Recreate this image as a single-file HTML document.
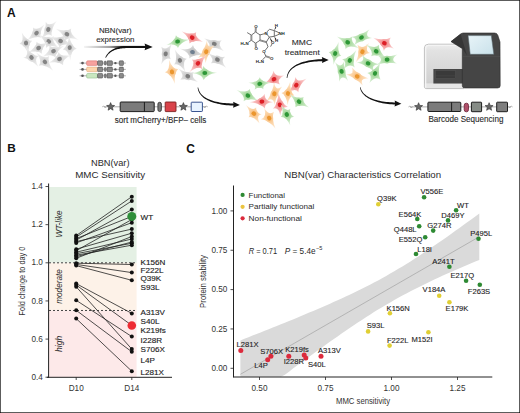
<!DOCTYPE html>
<html><head><meta charset="utf-8"><style>
html,body{margin:0;padding:0;background:#fff;overflow:hidden;}
svg{display:block;}
text{font-family:"Liberation Sans",sans-serif;}
</style></head><body>
<svg width="520" height="413" viewBox="0 0 520 413">
<rect x="0.5" y="0.5" width="519" height="412" fill="#fff" stroke="#5c5c5c" stroke-width="1"/>
<rect x="0" y="0" width="1" height="1" fill="#222"/><rect x="519" y="0" width="1" height="1" fill="#222"/><rect x="0" y="412" width="1" height="1" fill="#222"/><rect x="519" y="412" width="1" height="1" fill="#222"/>
<text x="6.9" y="16.6" font-size="12" text-anchor="start" fill="#111" font-weight="bold">A</text>
<text x="7.2" y="152.3" font-size="11.8" text-anchor="start" fill="#111" font-weight="bold">B</text>
<text x="186.2" y="152.7" font-size="12" text-anchor="start" fill="#111" font-weight="bold">C</text>
<rect x="49" y="187" width="87.6" height="75.80000000000001" fill="#e4f0e4"/>
<rect x="49" y="262.8" width="87.6" height="47.67500000000001" fill="#fdf2e8"/>
<rect x="49" y="310.475" width="87.6" height="66.745" fill="#fde9e9"/>
<line x1="49" y1="262.8" x2="136.6" y2="262.8" stroke="#444" stroke-width="1" stroke-dasharray="2,2"/>
<line x1="49" y1="310.475" x2="136.6" y2="310.475" stroke="#444" stroke-width="1" stroke-dasharray="2,2"/>
<line x1="48.6" y1="183.5" x2="48.6" y2="377.8" stroke="#222" stroke-width="1"/>
<line x1="47" y1="377.3" x2="172" y2="377.3" stroke="#222" stroke-width="1"/>
<line x1="45.5" y1="186.52000000000004" x2="48.5" y2="186.52000000000004" stroke="#222" stroke-width="0.8"/>
<text x="42.8" y="189.12000000000003" font-size="8.2" text-anchor="end" fill="#333" >1.4</text>
<line x1="45.5" y1="224.66000000000003" x2="48.5" y2="224.66000000000003" stroke="#222" stroke-width="0.8"/>
<text x="42.8" y="227.26000000000002" font-size="8.2" text-anchor="end" fill="#333" >1.2</text>
<line x1="45.5" y1="262.8" x2="48.5" y2="262.8" stroke="#222" stroke-width="0.8"/>
<text x="42.8" y="265.40000000000003" font-size="8.2" text-anchor="end" fill="#333" >1.0</text>
<line x1="45.5" y1="300.94" x2="48.5" y2="300.94" stroke="#222" stroke-width="0.8"/>
<text x="42.8" y="303.54" font-size="8.2" text-anchor="end" fill="#333" >0.8</text>
<line x1="45.5" y1="339.08000000000004" x2="48.5" y2="339.08000000000004" stroke="#222" stroke-width="0.8"/>
<text x="42.8" y="341.68000000000006" font-size="8.2" text-anchor="end" fill="#333" >0.6</text>
<line x1="45.5" y1="377.22" x2="48.5" y2="377.22" stroke="#222" stroke-width="0.8"/>
<text x="42.8" y="379.82000000000005" font-size="8.2" text-anchor="end" fill="#333" >0.4</text>
<line x1="76.2" y1="377.3" x2="76.2" y2="380" stroke="#222" stroke-width="0.8"/>
<text x="76.2" y="390.5" font-size="8.2" text-anchor="middle" fill="#333" >D10</text>
<line x1="131.8" y1="377.3" x2="131.8" y2="380" stroke="#222" stroke-width="0.8"/>
<text x="131.8" y="390.5" font-size="8.2" text-anchor="middle" fill="#333" >D14</text>
<text x="91" y="165.8" font-size="8.8" text-anchor="start" fill="#2a2a2a" textLength="38.5" lengthAdjust="spacingAndGlyphs">NBN(var)</text>
<text x="75.2" y="177.8" font-size="9.4" text-anchor="start" fill="#2a2a2a" textLength="70" lengthAdjust="spacingAndGlyphs">MMC Sensitivity</text>
<text transform="translate(25.3,315.4) rotate(-90)" font-size="8.7" fill="#333" textLength="68.8" lengthAdjust="spacingAndGlyphs">Fold change to day 0</text>
<text transform="translate(61.6,223.9) rotate(-90)" font-size="8.2" font-style="italic" text-anchor="middle" fill="#2a2a2a" textLength="27.2" lengthAdjust="spacingAndGlyphs">WT-like</text>
<text transform="translate(61.6,286.5) rotate(-90)" font-size="8.2" font-style="italic" text-anchor="middle" fill="#2a2a2a" textLength="34.5" lengthAdjust="spacingAndGlyphs">moderate</text>
<text transform="translate(61.6,343.8) rotate(-90)" font-size="8.2" font-style="italic" text-anchor="middle" fill="#2a2a2a" textLength="16.3" lengthAdjust="spacingAndGlyphs">high</text>
<line x1="76.2" y1="235.6" x2="131.8" y2="196.7" stroke="#222" stroke-width="0.8"/>
<line x1="76.2" y1="237.1" x2="131.8" y2="200.9" stroke="#222" stroke-width="0.8"/>
<line x1="76.2" y1="238.6" x2="131.8" y2="216.4" stroke="#222" stroke-width="0.8"/>
<line x1="76.2" y1="240.1" x2="131.8" y2="209.6" stroke="#222" stroke-width="0.8"/>
<line x1="76.2" y1="241.6" x2="131.8" y2="229.1" stroke="#222" stroke-width="0.8"/>
<line x1="76.2" y1="242.9" x2="131.8" y2="222.7" stroke="#222" stroke-width="0.8"/>
<line x1="76.2" y1="249.2" x2="131.8" y2="233.2" stroke="#222" stroke-width="0.8"/>
<line x1="76.2" y1="250.7" x2="131.8" y2="219.5" stroke="#222" stroke-width="0.8"/>
<line x1="76.2" y1="252.2" x2="131.8" y2="239.0" stroke="#222" stroke-width="0.8"/>
<line x1="76.2" y1="253.7" x2="131.8" y2="243.3" stroke="#222" stroke-width="0.8"/>
<line x1="76.2" y1="255.2" x2="131.8" y2="245.2" stroke="#222" stroke-width="0.8"/>
<line x1="76.2" y1="256.7" x2="131.8" y2="242.0" stroke="#222" stroke-width="0.8"/>
<line x1="76.2" y1="258.3" x2="131.8" y2="236.5" stroke="#222" stroke-width="0.8"/>
<line x1="76.2" y1="263.2" x2="131.8" y2="264.5" stroke="#222" stroke-width="0.8"/>
<line x1="76.2" y1="264.4" x2="131.8" y2="272.6" stroke="#222" stroke-width="0.8"/>
<line x1="76.2" y1="265.6" x2="131.8" y2="280.3" stroke="#222" stroke-width="0.8"/>
<line x1="76.2" y1="283.6" x2="131.8" y2="313.4" stroke="#222" stroke-width="0.8"/>
<line x1="76.2" y1="285.0" x2="131.8" y2="325.4" stroke="#222" stroke-width="0.8"/>
<line x1="76.2" y1="286.8" x2="131.8" y2="349.1" stroke="#222" stroke-width="0.8"/>
<line x1="76.2" y1="300.3" x2="131.8" y2="336.6" stroke="#222" stroke-width="0.8"/>
<line x1="76.2" y1="310.3" x2="131.8" y2="351.8" stroke="#222" stroke-width="0.8"/>
<line x1="76.2" y1="318.6" x2="131.8" y2="371.2" stroke="#222" stroke-width="0.8"/>
<circle cx="76.2" cy="235.6" r="2" fill="#111"/>
<circle cx="131.8" cy="196.7" r="2" fill="#111"/>
<circle cx="76.2" cy="237.1" r="2" fill="#111"/>
<circle cx="131.8" cy="200.9" r="2" fill="#111"/>
<circle cx="76.2" cy="238.6" r="2" fill="#111"/>
<circle cx="131.8" cy="216.4" r="2" fill="#111"/>
<circle cx="76.2" cy="240.1" r="2" fill="#111"/>
<circle cx="131.8" cy="209.6" r="2" fill="#111"/>
<circle cx="76.2" cy="241.6" r="2" fill="#111"/>
<circle cx="131.8" cy="229.1" r="2" fill="#111"/>
<circle cx="76.2" cy="242.9" r="2" fill="#111"/>
<circle cx="131.8" cy="222.7" r="2" fill="#111"/>
<circle cx="76.2" cy="249.2" r="2" fill="#111"/>
<circle cx="131.8" cy="233.2" r="2" fill="#111"/>
<circle cx="76.2" cy="250.7" r="2" fill="#111"/>
<circle cx="131.8" cy="219.5" r="2" fill="#111"/>
<circle cx="76.2" cy="252.2" r="2" fill="#111"/>
<circle cx="131.8" cy="239.0" r="2" fill="#111"/>
<circle cx="76.2" cy="253.7" r="2" fill="#111"/>
<circle cx="131.8" cy="243.3" r="2" fill="#111"/>
<circle cx="76.2" cy="255.2" r="2" fill="#111"/>
<circle cx="131.8" cy="245.2" r="2" fill="#111"/>
<circle cx="76.2" cy="256.7" r="2" fill="#111"/>
<circle cx="131.8" cy="242.0" r="2" fill="#111"/>
<circle cx="76.2" cy="258.3" r="2" fill="#111"/>
<circle cx="131.8" cy="236.5" r="2" fill="#111"/>
<circle cx="76.2" cy="263.2" r="2" fill="#111"/>
<circle cx="131.8" cy="264.5" r="2" fill="#111"/>
<circle cx="76.2" cy="264.4" r="2" fill="#111"/>
<circle cx="131.8" cy="272.6" r="2" fill="#111"/>
<circle cx="76.2" cy="265.6" r="2" fill="#111"/>
<circle cx="131.8" cy="280.3" r="2" fill="#111"/>
<circle cx="76.2" cy="283.6" r="2" fill="#111"/>
<circle cx="131.8" cy="313.4" r="2" fill="#111"/>
<circle cx="76.2" cy="285.0" r="2" fill="#111"/>
<circle cx="131.8" cy="325.4" r="2" fill="#111"/>
<circle cx="76.2" cy="286.8" r="2" fill="#111"/>
<circle cx="131.8" cy="349.1" r="2" fill="#111"/>
<circle cx="76.2" cy="300.3" r="2" fill="#111"/>
<circle cx="131.8" cy="336.6" r="2" fill="#111"/>
<circle cx="76.2" cy="310.3" r="2" fill="#111"/>
<circle cx="131.8" cy="351.8" r="2" fill="#111"/>
<circle cx="76.2" cy="318.6" r="2" fill="#111"/>
<circle cx="131.8" cy="371.2" r="2" fill="#111"/>
<circle cx="131.8" cy="216.4" r="4.5" fill="#2f8f3a"/>
<circle cx="131.8" cy="325.5" r="4.3" fill="#ee2b34"/>
<text x="140.5" y="220.3" font-size="8.1" text-anchor="start" fill="#1e1e1e" stroke="#1e1e1e" stroke-width="0.15">WT</text>
<text x="140.5" y="264.5" font-size="8.1" text-anchor="start" fill="#1e1e1e" stroke="#1e1e1e" stroke-width="0.15">K156N</text>
<text x="140.5" y="273.0" font-size="8.1" text-anchor="start" fill="#1e1e1e" stroke="#1e1e1e" stroke-width="0.15">F222L</text>
<text x="140.5" y="281.2" font-size="8.1" text-anchor="start" fill="#1e1e1e" stroke="#1e1e1e" stroke-width="0.15">Q39K</text>
<text x="140.5" y="290.2" font-size="8.1" text-anchor="start" fill="#1e1e1e" stroke="#1e1e1e" stroke-width="0.15">S93L</text>
<text x="140.5" y="315.1" font-size="8.1" text-anchor="start" fill="#1e1e1e" stroke="#1e1e1e" stroke-width="0.15">A313V</text>
<text x="140.5" y="323.7" font-size="8.1" text-anchor="start" fill="#1e1e1e" stroke="#1e1e1e" stroke-width="0.15">S40L</text>
<text x="140.5" y="333.1" font-size="8.1" text-anchor="start" fill="#1e1e1e" stroke="#1e1e1e" stroke-width="0.15">K219fs</text>
<text x="140.5" y="342.5" font-size="8.1" text-anchor="start" fill="#1e1e1e" stroke="#1e1e1e" stroke-width="0.15">I228R</text>
<text x="140.5" y="352.2" font-size="8.1" text-anchor="start" fill="#1e1e1e" stroke="#1e1e1e" stroke-width="0.15">S706X</text>
<text x="140.5" y="362.5" font-size="8.1" text-anchor="start" fill="#1e1e1e" stroke="#1e1e1e" stroke-width="0.15">L4P</text>
<text x="140.5" y="374.7" font-size="8.1" text-anchor="start" fill="#1e1e1e" stroke="#1e1e1e" stroke-width="0.15">L281X</text>
<polygon points="240.4,340.4 244.4,338.8 248.5,337.2 252.5,335.6 256.6,334.0 260.6,332.4 264.7,330.8 268.7,329.2 272.8,327.6 276.8,325.9 280.9,324.3 284.9,322.7 289.0,321.0 293.0,319.4 297.1,317.7 301.1,316.0 305.2,314.3 309.2,312.6 313.3,310.9 317.3,309.2 321.4,307.5 325.4,305.7 329.5,303.9 333.5,302.1 337.6,300.3 341.6,298.4 345.7,296.6 349.7,294.7 353.8,292.7 357.8,290.8 361.9,288.8 365.9,286.7 370.0,284.7 374.0,282.5 378.1,280.4 382.1,278.2 386.2,275.9 390.2,273.6 394.3,271.2 398.3,268.8 402.4,266.4 406.4,263.9 410.5,261.4 414.5,258.8 418.6,256.2 422.6,253.5 426.7,250.8 430.7,248.1 434.8,245.3 438.8,242.5 442.9,239.7 446.9,236.9 451.0,234.0 455.0,231.1 459.1,228.2 463.1,225.3 467.2,222.3 471.2,219.4 475.3,216.4 479.3,213.5 479.3,259.9 475.3,261.5 471.2,263.2 467.2,265.0 463.1,266.7 459.1,268.4 455.0,270.2 451.0,272.0 446.9,273.8 442.9,275.6 438.8,277.5 434.8,279.3 430.7,281.2 426.7,283.2 422.6,285.2 418.6,287.2 414.5,289.2 410.5,291.3 406.4,293.4 402.4,295.6 398.3,297.8 394.3,300.1 390.2,302.4 386.2,304.8 382.1,307.2 378.1,309.6 374.0,312.1 370.0,314.7 365.9,317.3 361.9,319.9 357.8,322.6 353.8,325.3 349.7,328.0 345.7,330.8 341.6,333.6 337.6,336.4 333.5,339.2 329.5,342.1 325.4,345.0 321.4,347.9 317.3,350.8 313.3,353.8 309.2,356.7 305.2,359.7 301.1,362.7 297.1,365.6 293.0,368.6 289.0,371.7 284.9,374.7 280.9,376.8 276.8,376.8 272.8,376.8 268.7,376.8 264.7,376.8 260.6,376.8 256.6,376.8 252.5,376.8 248.5,376.8 244.4,376.8 240.4,376.8" fill="#dadada"/>
<line x1="240.4" y1="374.3" x2="479.3" y2="236.7" stroke="#aaa" stroke-width="0.8"/>
<line x1="233.5" y1="185.5" x2="233.5" y2="377.5" stroke="#222" stroke-width="1"/>
<line x1="233.5" y1="377" x2="492.3" y2="377" stroke="#222" stroke-width="1"/>
<line x1="230.5" y1="210.9" x2="233.5" y2="210.9" stroke="#222" stroke-width="0.8"/>
<text x="227.4" y="213.5" font-size="8.2" text-anchor="end" fill="#333" >1.00</text>
<line x1="230.5" y1="250.25" x2="233.5" y2="250.25" stroke="#222" stroke-width="0.8"/>
<text x="227.4" y="252.85" font-size="8.2" text-anchor="end" fill="#333" >0.75</text>
<line x1="230.5" y1="289.6" x2="233.5" y2="289.6" stroke="#222" stroke-width="0.8"/>
<text x="227.4" y="292.20000000000005" font-size="8.2" text-anchor="end" fill="#333" >0.50</text>
<line x1="230.5" y1="328.95" x2="233.5" y2="328.95" stroke="#222" stroke-width="0.8"/>
<text x="227.4" y="331.55" font-size="8.2" text-anchor="end" fill="#333" >0.25</text>
<line x1="230.5" y1="368.3" x2="233.5" y2="368.3" stroke="#222" stroke-width="0.8"/>
<text x="227.4" y="370.90000000000003" font-size="8.2" text-anchor="end" fill="#333" >0.00</text>
<line x1="259.5" y1="377" x2="259.5" y2="380" stroke="#222" stroke-width="0.8"/>
<text x="259.5" y="390.5" font-size="8.2" text-anchor="middle" fill="#333" >0.50</text>
<line x1="325.5" y1="377" x2="325.5" y2="380" stroke="#222" stroke-width="0.8"/>
<text x="325.5" y="390.5" font-size="8.2" text-anchor="middle" fill="#333" >0.75</text>
<line x1="391.5" y1="377" x2="391.5" y2="380" stroke="#222" stroke-width="0.8"/>
<text x="391.5" y="390.5" font-size="8.2" text-anchor="middle" fill="#333" >1.00</text>
<line x1="457.5" y1="377" x2="457.5" y2="380" stroke="#222" stroke-width="0.8"/>
<text x="457.5" y="390.5" font-size="8.2" text-anchor="middle" fill="#333" >1.25</text>
<text x="336" y="403.9" font-size="9.4" text-anchor="start" fill="#333" textLength="54" lengthAdjust="spacingAndGlyphs">MMC sensitivity</text>
<text transform="translate(206.1,307.9) rotate(-90)" font-size="9.1" fill="#333" textLength="52.9" lengthAdjust="spacingAndGlyphs">Protein stability</text>
<text x="284.3" y="178.1" font-size="9.4" text-anchor="start" fill="#2a2a2a" textLength="156.8" lengthAdjust="spacingAndGlyphs">NBN(var) Characteristics Correlation</text>
<circle cx="242.6" cy="194.9" r="2.1" fill="#2e8a33"/>
<text x="248.6" y="197.6" font-size="8.0" text-anchor="start" fill="#2a2a2a" textLength="36.4" lengthAdjust="spacingAndGlyphs">Functional</text>
<circle cx="242.6" cy="206.8" r="2.1" fill="#ebc440"/>
<text x="248.6" y="209.2" font-size="8.0" text-anchor="start" fill="#2a2a2a" textLength="65.7" lengthAdjust="spacingAndGlyphs">Partially functional</text>
<circle cx="242.6" cy="218.3" r="2.1" fill="#dc2a3c"/>
<text x="248.6" y="220.7" font-size="8.0" text-anchor="start" fill="#2a2a2a" textLength="53.3" lengthAdjust="spacingAndGlyphs">Non-functional</text>
<text x="248.7" y="253.8" font-size="8.2" fill="#2a2a2a" textLength="28.4" lengthAdjust="spacingAndGlyphs"><tspan font-style="italic">R</tspan> = 0.71</text>
<text x="284.8" y="253.8" font-size="8.2" fill="#2a2a2a" textLength="30.8" lengthAdjust="spacingAndGlyphs"><tspan font-style="italic">P</tspan> = 5.4e</text>
<text x="315.9" y="250.2" font-size="5.6" fill="#2a2a2a">−5</text>
<circle cx="424.1" cy="197.2" r="2.3" fill="#2e8a33"/>
<circle cx="456.1" cy="210.2" r="2.3" fill="#2e8a33"/>
<circle cx="417.3" cy="219" r="2.3" fill="#2e8a33"/>
<circle cx="448" cy="220.4" r="2.3" fill="#2e8a33"/>
<circle cx="419.2" cy="226.3" r="2.3" fill="#2e8a33"/>
<circle cx="433.2" cy="230.6" r="2.3" fill="#2e8a33"/>
<circle cx="425.2" cy="237.3" r="2.3" fill="#2e8a33"/>
<circle cx="478.5" cy="238.7" r="2.3" fill="#2e8a33"/>
<circle cx="416" cy="254" r="2.3" fill="#2e8a33"/>
<circle cx="449.4" cy="266.7" r="2.3" fill="#2e8a33"/>
<circle cx="466.1" cy="280.7" r="2.3" fill="#2e8a33"/>
<circle cx="479.8" cy="284.8" r="2.3" fill="#2e8a33"/>
<circle cx="378.3" cy="204.2" r="2.3" fill="#e0cf34"/>
<circle cx="439.2" cy="295.8" r="2.3" fill="#e0cf34"/>
<circle cx="449.4" cy="302.3" r="2.3" fill="#e0cf34"/>
<circle cx="389.9" cy="313.3" r="2.3" fill="#e0cf34"/>
<circle cx="368.1" cy="331.4" r="2.3" fill="#e0cf34"/>
<circle cx="428.4" cy="332.2" r="2.3" fill="#e0cf34"/>
<circle cx="389.6" cy="345.6" r="2.3" fill="#e0cf34"/>
<circle cx="240.8" cy="350.5" r="2.5" fill="#dc2a3c"/>
<circle cx="267.7" cy="359.7" r="2.5" fill="#dc2a3c"/>
<circle cx="270.9" cy="356.2" r="2.5" fill="#dc2a3c"/>
<circle cx="288.8" cy="356.2" r="2.5" fill="#dc2a3c"/>
<circle cx="304.2" cy="355" r="2.5" fill="#dc2a3c"/>
<circle cx="305.8" cy="358" r="2.5" fill="#dc2a3c"/>
<circle cx="321" cy="356.2" r="2.5" fill="#dc2a3c"/>
<text x="431.9" y="194.4" font-size="7.6" text-anchor="middle" fill="#1e1e1e" stroke="#1e1e1e" stroke-width="0.12">V556E</text>
<text x="463" y="207.7" font-size="7.6" text-anchor="middle" fill="#1e1e1e" stroke="#1e1e1e" stroke-width="0.12">WT</text>
<text x="410" y="216.5" font-size="7.6" text-anchor="middle" fill="#1e1e1e" stroke="#1e1e1e" stroke-width="0.12">E564K</text>
<text x="452.9" y="217.8" font-size="7.6" text-anchor="middle" fill="#1e1e1e" stroke="#1e1e1e" stroke-width="0.12">D469Y</text>
<text x="405.2" y="232.1" font-size="7.6" text-anchor="middle" fill="#1e1e1e" stroke="#1e1e1e" stroke-width="0.12">Q448L</text>
<text x="439.4" y="228.0" font-size="7.6" text-anchor="middle" fill="#1e1e1e" stroke="#1e1e1e" stroke-width="0.12">G274R</text>
<text x="410.6" y="241.5" font-size="7.6" text-anchor="middle" fill="#1e1e1e" stroke="#1e1e1e" stroke-width="0.12">E552Q</text>
<text x="481.2" y="236.1" font-size="7.6" text-anchor="middle" fill="#1e1e1e" stroke="#1e1e1e" stroke-width="0.12">P495L</text>
<text x="424.6" y="252.0" font-size="7.6" text-anchor="middle" fill="#1e1e1e" stroke="#1e1e1e" stroke-width="0.12">L18I</text>
<text x="443.5" y="263.6" font-size="7.6" text-anchor="middle" fill="#1e1e1e" stroke="#1e1e1e" stroke-width="0.12">A241T</text>
<text x="462.3" y="277.6" font-size="7.6" text-anchor="middle" fill="#1e1e1e" stroke="#1e1e1e" stroke-width="0.12">E217Q</text>
<text x="479" y="293.8" font-size="7.6" text-anchor="middle" fill="#1e1e1e" stroke="#1e1e1e" stroke-width="0.12">F263S</text>
<text x="386.8" y="201.1" font-size="7.6" text-anchor="middle" fill="#1e1e1e" stroke="#1e1e1e" stroke-width="0.12">Q39K</text>
<text x="434" y="292.4" font-size="7.6" text-anchor="middle" fill="#1e1e1e" stroke="#1e1e1e" stroke-width="0.12">V184A</text>
<text x="457" y="311.3" font-size="7.6" text-anchor="middle" fill="#1e1e1e" stroke="#1e1e1e" stroke-width="0.12">E179K</text>
<text x="398.2" y="311.3" font-size="7.6" text-anchor="middle" fill="#1e1e1e" stroke="#1e1e1e" stroke-width="0.12">K156N</text>
<text x="375.6" y="328.2" font-size="7.6" text-anchor="middle" fill="#1e1e1e" stroke="#1e1e1e" stroke-width="0.12">S93L</text>
<text x="422" y="342.2" font-size="7.6" text-anchor="middle" fill="#1e1e1e" stroke="#1e1e1e" stroke-width="0.12">M152I</text>
<text x="397.7" y="343.0" font-size="7.6" text-anchor="middle" fill="#1e1e1e" stroke="#1e1e1e" stroke-width="0.12">F222L</text>
<text x="247.5" y="347.4" font-size="7.6" text-anchor="middle" fill="#1e1e1e" stroke="#1e1e1e" stroke-width="0.12">L281X</text>
<text x="271.7" y="354.2" font-size="7.6" text-anchor="middle" fill="#1e1e1e" stroke="#1e1e1e" stroke-width="0.12">S706X</text>
<text x="261" y="368.4" font-size="7.6" text-anchor="middle" fill="#1e1e1e" stroke="#1e1e1e" stroke-width="0.12">L4P</text>
<text x="297" y="352.0" font-size="7.6" text-anchor="middle" fill="#1e1e1e" stroke="#1e1e1e" stroke-width="0.12">K219fs</text>
<text x="293.8" y="364.4" font-size="7.6" text-anchor="middle" fill="#1e1e1e" stroke="#1e1e1e" stroke-width="0.12">I228R</text>
<text x="316.8" y="366.8" font-size="7.6" text-anchor="middle" fill="#1e1e1e" stroke="#1e1e1e" stroke-width="0.12">S40L</text>
<text x="329.3" y="353.4" font-size="7.6" text-anchor="middle" fill="#1e1e1e" stroke="#1e1e1e" stroke-width="0.12">A313V</text>
<defs><radialGradient id="cgg" gradientUnits="userSpaceOnUse" cx="0" cy="0" r="9"><stop offset="0" stop-color="#cbcbcb"/><stop offset="0.35" stop-color="#dedede"/><stop offset="1" stop-color="#f6f6f6"/></radialGradient><radialGradient id="cgk" gradientUnits="userSpaceOnUse" cx="0" cy="0" r="9"><stop offset="0" stop-color="#bdbdbd"/><stop offset="0.35" stop-color="#d4d4d4"/><stop offset="1" stop-color="#f2f2f2"/></radialGradient><radialGradient id="cgr" gradientUnits="userSpaceOnUse" cx="0" cy="0" r="9"><stop offset="0" stop-color="#f07c7c"/><stop offset="0.35" stop-color="#f5a3a3"/><stop offset="1" stop-color="#fde4e4"/></radialGradient><radialGradient id="cgG" gradientUnits="userSpaceOnUse" cx="0" cy="0" r="9"><stop offset="0" stop-color="#8ccc82"/><stop offset="0.35" stop-color="#b3dfab"/><stop offset="1" stop-color="#e9f6e6"/></radialGradient><radialGradient id="cgo" gradientUnits="userSpaceOnUse" cx="0" cy="0" r="9"><stop offset="0" stop-color="#f6b36a"/><stop offset="0.35" stop-color="#fbcf9d"/><stop offset="1" stop-color="#fff0df"/></radialGradient><radialGradient id="cgb" gradientUnits="userSpaceOnUse" cx="0" cy="0" r="9"><stop offset="0" stop-color="#b4b4b4"/><stop offset="0.35" stop-color="#cecece"/><stop offset="1" stop-color="#efefef"/></radialGradient></defs>
<g transform="translate(48.3,29.5) rotate(117) scale(1.375,1.1875)"><path d="M8.4,1.5 Q0.5,1.5 -4.2,5.0 Q-1.5,0.4 -8.5,-3.1 Q-0.5,-1.5 3.0,-5.2 Q1.5,-0.7 8.4,1.5Z" fill="url(#cgg)"/><circle r="3.3" fill="url(#cgg)"/><circle r="1.75" fill="#858585"/></g>
<g transform="translate(36.5,33.1) rotate(142) scale(1.375,1.1875)"><path d="M9.0,0.0 Q1.1,1.2 -0.5,5.5 Q-1.1,1.2 -8.4,1.5 Q-1.3,-1.0 -0.5,-5.5 Q1.1,-1.2 9.0,0.0Z" fill="url(#cgg)"/><circle r="3.3" fill="url(#cgg)"/><circle r="1.75" fill="#858585"/></g>
<g transform="translate(66.9,34.2) rotate(26) scale(1.375,1.1875)"><path d="M9.5,0.0 Q1.2,1.0 1.0,5.9 Q-1.0,1.2 -9.0,0.0 Q-1.0,-1.2 1.0,-5.9 Q1.2,-1.0 9.5,0.0Z" fill="url(#cgg)"/><circle r="3.3" fill="url(#cgg)"/><circle r="1.75" fill="#858585"/></g>
<g transform="translate(48.8,41.4) rotate(34) scale(1.375,1.1875)"><path d="M9.5,0.0 Q1.2,1.0 1.0,5.9 Q-1.0,1.2 -9.0,0.0 Q-1.0,-1.2 1.0,-5.9 Q1.2,-1.0 9.5,0.0Z" fill="url(#cgg)"/><circle r="3.3" fill="url(#cgg)"/><circle r="1.75" fill="#858585"/></g>
<g transform="translate(60.6,41) rotate(21) scale(1.375,1.1875)"><path d="M9.5,0.0 Q1.2,1.0 1.0,5.9 Q-1.0,1.2 -9.0,0.0 Q-1.0,-1.2 1.0,-5.9 Q1.2,-1.0 9.5,0.0Z" fill="url(#cgg)"/><circle r="3.3" fill="url(#cgg)"/><circle r="1.75" fill="#858585"/></g>
<g transform="translate(26,43) rotate(77) scale(1.375,1.1875)"><path d="M9.0,0.0 Q1.1,1.2 -0.5,5.5 Q-1.1,1.2 -8.4,1.5 Q-1.3,-1.0 -0.5,-5.5 Q1.1,-1.2 9.0,0.0Z" fill="url(#cgg)"/><circle r="3.3" fill="url(#cgg)"/><circle r="1.75" fill="#858585"/></g>
<g transform="translate(38.6,48) rotate(156) scale(1.375,1.1875)"><path d="M9.0,0.0 Q1.1,1.2 -0.5,5.5 Q-1.1,1.2 -8.4,1.5 Q-1.3,-1.0 -0.5,-5.5 Q1.1,-1.2 9.0,0.0Z" fill="url(#cgg)"/><circle r="3.3" fill="url(#cgg)"/><circle r="1.75" fill="#858585"/></g>
<g transform="translate(69.7,47.7) rotate(87) scale(1.375,1.1875)"><path d="M9.5,0.0 Q1.2,1.0 1.0,5.9 Q-1.0,1.2 -9.0,0.0 Q-1.0,-1.2 1.0,-5.9 Q1.2,-1.0 9.5,0.0Z" fill="url(#cgg)"/><circle r="3.3" fill="url(#cgg)"/><circle r="1.75" fill="#858585"/></g>
<g transform="translate(53.5,51.2) rotate(153) scale(1.375,1.1875)"><path d="M9.5,0.0 Q1.2,1.0 1.0,5.9 Q-1.0,1.2 -9.0,0.0 Q-1.0,-1.2 1.0,-5.9 Q1.2,-1.0 9.5,0.0Z" fill="url(#cgg)"/><circle r="3.3" fill="url(#cgg)"/><circle r="1.75" fill="#858585"/></g>
<g transform="translate(31.5,57.5) rotate(45) scale(1.375,1.1875)"><path d="M8.4,1.5 Q0.5,1.5 -4.2,5.0 Q-1.5,0.4 -8.5,-3.1 Q-0.5,-1.5 3.0,-5.2 Q1.5,-0.7 8.4,1.5Z" fill="url(#cgg)"/><circle r="3.3" fill="url(#cgg)"/><circle r="1.75" fill="#858585"/></g>
<g transform="translate(44.9,61.9) rotate(227) scale(1.375,1.1875)"><path d="M9.5,0.0 Q1.2,1.0 1.0,5.9 Q-1.0,1.2 -9.0,0.0 Q-1.0,-1.2 1.0,-5.9 Q1.2,-1.0 9.5,0.0Z" fill="url(#cgg)"/><circle r="3.3" fill="url(#cgg)"/><circle r="1.75" fill="#858585"/></g>
<g transform="translate(59.5,59) rotate(341) scale(1.375,1.1875)"><path d="M9.5,0.0 Q1.2,1.0 1.0,5.9 Q-1.0,1.2 -9.0,0.0 Q-1.0,-1.2 1.0,-5.9 Q1.2,-1.0 9.5,0.0Z" fill="url(#cgg)"/><circle r="3.3" fill="url(#cgg)"/><circle r="1.75" fill="#858585"/></g>
<g transform="translate(192.2,37.6) rotate(211) scale(1.375,1.1875)"><path d="M9.0,0.0 Q1.1,1.2 -0.5,5.5 Q-1.1,1.2 -8.4,1.5 Q-1.3,-1.0 -0.5,-5.5 Q1.1,-1.2 9.0,0.0Z" fill="url(#cgr)"/><circle r="3.3" fill="url(#cgr)"/><circle r="1.75" fill="#dd1f27"/></g>
<g transform="translate(177.6,41.5) rotate(351) scale(1.375,1.1875)"><path d="M9.0,0.0 Q1.1,1.2 -0.5,5.5 Q-1.1,1.2 -8.4,1.5 Q-1.3,-1.0 -0.5,-5.5 Q1.1,-1.2 9.0,0.0Z" fill="url(#cgG)"/><circle r="3.3" fill="url(#cgG)"/><circle r="1.75" fill="#2d9737"/></g>
<g transform="translate(214.3,43.9) rotate(200) scale(1.375,1.1875)"><path d="M8.4,1.5 Q0.5,1.5 -4.2,5.0 Q-1.5,0.4 -8.5,-3.1 Q-0.5,-1.5 3.0,-5.2 Q1.5,-0.7 8.4,1.5Z" fill="url(#cgk)"/><circle r="3.3" fill="url(#cgk)"/><circle r="1.75" fill="#7c7c7c"/></g>
<g transform="translate(165.7,53.8) rotate(104) scale(1.375,1.1875)"><path d="M8.4,1.5 Q0.5,1.5 -4.2,5.0 Q-1.5,0.4 -8.5,-3.1 Q-0.5,-1.5 3.0,-5.2 Q1.5,-0.7 8.4,1.5Z" fill="url(#cgk)"/><circle r="3.3" fill="url(#cgk)"/><circle r="1.75" fill="#7c7c7c"/></g>
<g transform="translate(192.5,52.1) rotate(195) scale(1.375,1.1875)"><path d="M9.5,0.0 Q1.2,1.0 1.0,5.9 Q-1.0,1.2 -9.0,0.0 Q-1.0,-1.2 1.0,-5.9 Q1.2,-1.0 9.5,0.0Z" fill="url(#cgb)"/><circle r="3.3" fill="url(#cgb)"/><circle r="1.75" fill="#6f7f90"/></g>
<g transform="translate(206.2,51.8) rotate(111) scale(1.375,1.1875)"><path d="M8.0,-2.9 Q1.6,0.2 6.6,4.6 Q-0.2,1.6 -8.0,2.9 Q-1.6,-0.2 -6.6,-4.6 Q0.2,-1.6 8.0,-2.9Z" fill="url(#cgo)"/><circle r="3.3" fill="url(#cgo)"/><circle r="1.75" fill="#eb962e"/></g>
<g transform="translate(179.9,60.4) rotate(65) scale(1.375,1.1875)"><path d="M9.5,0.0 Q1.2,1.0 1.0,5.9 Q-1.0,1.2 -9.0,0.0 Q-1.0,-1.2 1.0,-5.9 Q1.2,-1.0 9.5,0.0Z" fill="url(#cgk)"/><circle r="3.3" fill="url(#cgk)"/><circle r="1.75" fill="#7c7c7c"/></g>
<g transform="translate(217.4,59.6) rotate(206) scale(1.375,1.1875)"><path d="M8.4,1.5 Q0.5,1.5 -4.2,5.0 Q-1.5,0.4 -8.5,-3.1 Q-0.5,-1.5 3.0,-5.2 Q1.5,-0.7 8.4,1.5Z" fill="url(#cgk)"/><circle r="3.3" fill="url(#cgk)"/><circle r="1.75" fill="#7c7c7c"/></g>
<g transform="translate(198,63.3) rotate(134) scale(1.375,1.1875)"><path d="M9.5,0.0 Q1.2,1.0 1.0,5.9 Q-1.0,1.2 -9.0,0.0 Q-1.0,-1.2 1.0,-5.9 Q1.2,-1.0 9.5,0.0Z" fill="url(#cgr)"/><circle r="3.3" fill="url(#cgr)"/><circle r="1.75" fill="#dd1f27"/></g>
<g transform="translate(172,71.9) rotate(256) scale(1.375,1.1875)"><path d="M9.5,0.0 Q1.2,1.0 1.0,5.9 Q-1.0,1.2 -9.0,0.0 Q-1.0,-1.2 1.0,-5.9 Q1.2,-1.0 9.5,0.0Z" fill="url(#cgo)"/><circle r="3.3" fill="url(#cgo)"/><circle r="1.75" fill="#eb962e"/></g>
<g transform="translate(187.8,76.2) rotate(21) scale(1.375,1.1875)"><path d="M8.4,1.5 Q0.5,1.5 -4.2,5.0 Q-1.5,0.4 -8.5,-3.1 Q-0.5,-1.5 3.0,-5.2 Q1.5,-0.7 8.4,1.5Z" fill="url(#cgk)"/><circle r="3.3" fill="url(#cgk)"/><circle r="1.75" fill="#7c7c7c"/></g>
<g transform="translate(204.8,73) rotate(179) scale(1.375,1.1875)"><path d="M9.5,0.0 Q1.2,1.0 1.0,5.9 Q-1.0,1.2 -9.0,0.0 Q-1.0,-1.2 1.0,-5.9 Q1.2,-1.0 9.5,0.0Z" fill="url(#cgG)"/><circle r="3.3" fill="url(#cgG)"/><circle r="1.75" fill="#2d9737"/></g>
<g transform="translate(274,79.2) rotate(154) scale(1.375,1.1875)"><path d="M9.0,0.0 Q0.9,1.3 -2.4,6.6 Q-1.3,0.9 -8.0,-0.7 Q-1.3,-1.0 -2.2,-6.1 Q0.9,-1.3 9.0,0.0Z" fill="url(#cgr)"/><circle r="3.3" fill="url(#cgr)"/><circle r="1.75" fill="#dd1f27"/></g>
<g transform="translate(259.7,83.8) rotate(168) scale(1.375,1.1875)"><path d="M8.0,2.9 Q0.8,1.4 -1.0,5.4 Q-1.3,1.0 -8.5,-0.7 Q-1.3,-1.0 -1.9,-5.2 Q0.4,-1.5 4.6,-3.9 Q1.6,-0.3 8.0,2.9Z" fill="url(#cgG)"/><circle r="3.3" fill="url(#cgG)"/><circle r="1.75" fill="#2d9737"/></g>
<g transform="translate(296.3,85.2) rotate(130) scale(1.375,1.1875)"><path d="M8.4,1.5 Q0.5,1.5 -4.2,5.0 Q-1.5,0.4 -8.5,-3.1 Q-0.5,-1.5 3.0,-5.2 Q1.5,-0.7 8.4,1.5Z" fill="url(#cgr)"/><circle r="3.3" fill="url(#cgr)"/><circle r="1.75" fill="#dd1f27"/></g>
<g transform="translate(274.4,93.8) rotate(286) scale(1.375,1.1875)"><path d="M8.0,-2.9 Q1.6,0.2 6.6,4.6 Q-0.2,1.6 -8.0,2.9 Q-1.6,-0.2 -6.6,-4.6 Q0.2,-1.6 8.0,-2.9Z" fill="url(#cgo)"/><circle r="3.3" fill="url(#cgo)"/><circle r="1.75" fill="#eb962e"/></g>
<g transform="translate(288,93.5) rotate(281) scale(1.375,1.1875)"><path d="M9.0,0.0 Q1.1,1.2 -0.5,5.5 Q-1.1,1.2 -8.4,1.5 Q-1.3,-1.0 -0.5,-5.5 Q1.1,-1.2 9.0,0.0Z" fill="url(#cgo)"/><circle r="3.3" fill="url(#cgo)"/><circle r="1.75" fill="#eb962e"/></g>
<g transform="translate(247.9,95.6) rotate(207) scale(1.375,1.1875)"><path d="M9.5,0.0 Q1.2,1.0 1.0,5.9 Q-1.0,1.2 -9.0,0.0 Q-1.0,-1.2 1.0,-5.9 Q1.2,-1.0 9.5,0.0Z" fill="url(#cgG)"/><circle r="3.3" fill="url(#cgG)"/><circle r="1.75" fill="#2d9737"/></g>
<g transform="translate(261.9,101.7) rotate(178) scale(1.375,1.1875)"><path d="M9.0,0.0 Q0.9,1.3 -2.4,6.6 Q-1.3,0.9 -8.0,-0.7 Q-1.3,-1.0 -2.2,-6.1 Q0.9,-1.3 9.0,0.0Z" fill="url(#cgr)"/><circle r="3.3" fill="url(#cgr)"/><circle r="1.75" fill="#dd1f27"/></g>
<g transform="translate(279.8,104.8) rotate(263) scale(1.375,1.1875)"><path d="M9.0,0.0 Q0.9,1.3 -2.4,6.6 Q-1.3,0.9 -8.0,-0.7 Q-1.3,-1.0 -2.2,-6.1 Q0.9,-1.3 9.0,0.0Z" fill="url(#cgr)"/><circle r="3.3" fill="url(#cgr)"/><circle r="1.75" fill="#dd1f27"/></g>
<g transform="translate(299,101.7) rotate(219) scale(1.375,1.1875)"><path d="M9.0,0.0 Q1.1,1.2 -0.5,5.5 Q-1.1,1.2 -8.4,1.5 Q-1.3,-1.0 -0.5,-5.5 Q1.1,-1.2 9.0,0.0Z" fill="url(#cgG)"/><circle r="3.3" fill="url(#cgG)"/><circle r="1.75" fill="#2d9737"/></g>
<g transform="translate(253.9,113.6) rotate(43) scale(1.375,1.1875)"><path d="M8.0,2.9 Q0.8,1.4 -1.0,5.4 Q-1.3,1.0 -8.5,-0.7 Q-1.3,-1.0 -1.9,-5.2 Q0.4,-1.5 4.6,-3.9 Q1.6,-0.3 8.0,2.9Z" fill="url(#cgo)"/><circle r="3.3" fill="url(#cgo)"/><circle r="1.75" fill="#eb962e"/></g>
<g transform="translate(269.2,118.1) rotate(59) scale(1.375,1.1875)"><path d="M9.0,0.0 Q0.9,1.3 -2.4,6.6 Q-1.3,0.9 -8.0,-0.7 Q-1.3,-1.0 -2.2,-6.1 Q0.9,-1.3 9.0,0.0Z" fill="url(#cgo)"/><circle r="3.3" fill="url(#cgo)"/><circle r="1.75" fill="#eb962e"/></g>
<g transform="translate(286.8,114.5) rotate(55) scale(1.375,1.1875)"><path d="M8.0,2.9 Q0.8,1.4 -1.0,5.4 Q-1.3,1.0 -8.5,-0.7 Q-1.3,-1.0 -1.9,-5.2 Q0.4,-1.5 4.6,-3.9 Q1.6,-0.3 8.0,2.9Z" fill="url(#cgG)"/><circle r="3.3" fill="url(#cgG)"/><circle r="1.75" fill="#2d9737"/></g>
<g transform="translate(361.5,37.5) rotate(152) scale(1.375,1.1875)"><path d="M8.0,-2.9 Q1.6,0.2 6.6,4.6 Q-0.2,1.6 -8.0,2.9 Q-1.6,-0.2 -6.6,-4.6 Q0.2,-1.6 8.0,-2.9Z" fill="url(#cgG)"/><circle r="3.3" fill="url(#cgG)"/><circle r="1.75" fill="#2d9737"/></g>
<g transform="translate(347.7,42.3) rotate(28) scale(1.375,1.1875)"><path d="M9.5,0.0 Q1.2,1.0 1.0,5.9 Q-1.0,1.2 -9.0,0.0 Q-1.0,-1.2 1.0,-5.9 Q1.2,-1.0 9.5,0.0Z" fill="url(#cgG)"/><circle r="3.3" fill="url(#cgG)"/><circle r="1.75" fill="#2d9737"/></g>
<g transform="translate(384.4,43.2) rotate(206) scale(1.375,1.1875)"><path d="M9.0,0.0 Q0.9,1.3 -2.4,6.6 Q-1.3,0.9 -8.0,-0.7 Q-1.3,-1.0 -2.2,-6.1 Q0.9,-1.3 9.0,0.0Z" fill="url(#cgr)"/><circle r="3.3" fill="url(#cgr)"/><circle r="1.75" fill="#dd1f27"/></g>
<g transform="translate(362.4,51.8) rotate(122) scale(1.375,1.1875)"><path d="M9.0,0.0 Q0.9,1.3 -2.4,6.6 Q-1.3,0.9 -8.0,-0.7 Q-1.3,-1.0 -2.2,-6.1 Q0.9,-1.3 9.0,0.0Z" fill="url(#cgo)"/><circle r="3.3" fill="url(#cgo)"/><circle r="1.75" fill="#eb962e"/></g>
<g transform="translate(376.2,51.3) rotate(214) scale(1.375,1.1875)"><path d="M9.5,0.0 Q1.2,1.0 1.0,5.9 Q-1.0,1.2 -9.0,0.0 Q-1.0,-1.2 1.0,-5.9 Q1.2,-1.0 9.5,0.0Z" fill="url(#cgG)"/><circle r="3.3" fill="url(#cgG)"/><circle r="1.75" fill="#2d9737"/></g>
<g transform="translate(335.2,53.5) rotate(287) scale(1.375,1.1875)"><path d="M9.0,0.0 Q1.1,1.2 -0.5,5.5 Q-1.1,1.2 -8.4,1.5 Q-1.3,-1.0 -0.5,-5.5 Q1.1,-1.2 9.0,0.0Z" fill="url(#cgG)"/><circle r="3.3" fill="url(#cgG)"/><circle r="1.75" fill="#2d9737"/></g>
<g transform="translate(349.8,60.5) rotate(302) scale(1.375,1.1875)"><path d="M9.0,0.0 Q0.9,1.3 -2.4,6.6 Q-1.3,0.9 -8.0,-0.7 Q-1.3,-1.0 -2.2,-6.1 Q0.9,-1.3 9.0,0.0Z" fill="url(#cgG)"/><circle r="3.3" fill="url(#cgG)"/><circle r="1.75" fill="#2d9737"/></g>
<g transform="translate(387.1,59.6) rotate(171) scale(1.375,1.1875)"><path d="M8.0,-2.9 Q1.6,0.2 6.6,4.6 Q-0.2,1.6 -8.0,2.9 Q-1.6,-0.2 -6.6,-4.6 Q0.2,-1.6 8.0,-2.9Z" fill="url(#cgG)"/><circle r="3.3" fill="url(#cgG)"/><circle r="1.75" fill="#2d9737"/></g>
<g transform="translate(368.1,63.4) rotate(23) scale(1.375,1.1875)"><path d="M8.0,-2.9 Q1.6,0.2 6.6,4.6 Q-0.2,1.6 -8.0,2.9 Q-1.6,-0.2 -6.6,-4.6 Q0.2,-1.6 8.0,-2.9Z" fill="url(#cgG)"/><circle r="3.3" fill="url(#cgG)"/><circle r="1.75" fill="#2d9737"/></g>
<g transform="translate(341.6,71.4) rotate(253) scale(1.375,1.1875)"><path d="M8.0,-2.9 Q1.6,0.2 6.6,4.6 Q-0.2,1.6 -8.0,2.9 Q-1.6,-0.2 -6.6,-4.6 Q0.2,-1.6 8.0,-2.9Z" fill="url(#cgG)"/><circle r="3.3" fill="url(#cgG)"/><circle r="1.75" fill="#2d9737"/></g>
<g transform="translate(357.2,76.4) rotate(208) scale(1.375,1.1875)"><path d="M8.0,-2.9 Q1.6,0.2 6.6,4.6 Q-0.2,1.6 -8.0,2.9 Q-1.6,-0.2 -6.6,-4.6 Q0.2,-1.6 8.0,-2.9Z" fill="url(#cgo)"/><circle r="3.3" fill="url(#cgo)"/><circle r="1.75" fill="#eb962e"/></g>
<g transform="translate(375,73.4) rotate(296) scale(1.375,1.1875)"><path d="M9.0,0.0 Q0.9,1.3 -2.4,6.6 Q-1.3,0.9 -8.0,-0.7 Q-1.3,-1.0 -2.2,-6.1 Q0.9,-1.3 9.0,0.0Z" fill="url(#cgG)"/><circle r="3.3" fill="url(#cgG)"/><circle r="1.75" fill="#2d9737"/></g>
<defs><linearGradient id="ga" gradientUnits="userSpaceOnUse" x1="84" x2="124" y1="0" y2="0"><stop offset="0" stop-color="#f4f4f4"/><stop offset="0.65" stop-color="#a0a0a0"/><stop offset="1" stop-color="#111"/></linearGradient></defs>
<rect x="84" y="45.9" width="62" height="2.1" fill="url(#ga)"/>
<path d="M144.6,43.6 L152.7,46.95 L144.6,50.3 L145.4,46.95 Z" fill="#111"/>
<text x="98.9" y="33.05" font-size="8.0" text-anchor="start" fill="#2a2a2a" stroke="#2a2a2a" stroke-width="0.1" textLength="32.8" lengthAdjust="spacingAndGlyphs">NBN(var)</text>
<text x="96.2" y="42.0" font-size="8.0" text-anchor="start" fill="#2a2a2a" stroke="#2a2a2a" stroke-width="0.1" textLength="38.3" lengthAdjust="spacingAndGlyphs">expression</text>
<polygon points="105.91,57.76 106.27,57.13 106.65,56.53 107.05,55.95 107.47,55.39 107.90,54.85 108.35,54.34 108.82,53.85 109.31,53.38 109.83,52.93 110.36,52.50 110.92,52.10 111.50,51.71 112.11,51.35 112.74,51.00 113.39,50.67 114.08,50.37 114.79,50.08 115.53,49.81 116.31,49.56 117.11,49.33 117.94,49.12 118.81,48.93 119.72,48.75 120.65,48.60 121.63,48.46 122.63,48.34 123.68,48.24 124.77,48.16 125.89,48.09 127.05,48.05 126.95,45.95 125.75,46.05 124.59,46.16 123.47,46.29 122.39,46.44 121.34,46.61 120.33,46.80 119.36,47.01 118.42,47.24 117.51,47.50 116.64,47.77 115.80,48.06 114.99,48.37 114.22,48.70 113.47,49.05 112.76,49.43 112.07,49.82 111.42,50.23 110.79,50.67 110.19,51.12 109.62,51.60 109.08,52.10 108.56,52.61 108.07,53.15 107.61,53.70 107.17,54.28 106.75,54.87 106.35,55.48 105.98,56.12 105.62,56.77 105.29,57.44" fill="#111"/>
<polygon points="127.50,47.00 127.40,47.05 128.00,46.98 127.40,46.96" fill="#111"/>
<polygon points="197.60,87.54 197.79,88.70 198.06,89.82 198.41,90.90 198.85,91.95 199.38,92.95 199.99,93.92 200.68,94.85 201.44,95.73 202.29,96.58 203.20,97.39 204.19,98.15 205.25,98.88 206.38,99.57 207.58,100.22 208.84,100.83 210.17,101.40 211.55,101.94 213.00,102.44 214.51,102.90 216.07,103.32 217.69,103.71 219.36,104.06 221.08,104.38 222.86,104.66 224.68,104.91 226.55,105.13 228.47,105.31 230.43,105.45 232.43,105.57 234.48,105.65 234.52,103.55 232.51,103.52 230.54,103.46 228.61,103.36 226.72,103.23 224.88,103.07 223.09,102.88 221.35,102.65 219.66,102.39 218.03,102.10 216.44,101.77 214.91,101.40 213.44,101.00 212.03,100.57 210.67,100.10 209.38,99.59 208.15,99.05 206.99,98.48 205.89,97.86 204.85,97.21 203.89,96.52 202.99,95.80 202.16,95.04 201.40,94.23 200.72,93.39 200.11,92.51 199.57,91.59 199.11,90.62 198.72,89.61 198.42,88.56 198.20,87.46" fill="#111"/>
<polygon points="239.90,104.90 233.04,107.77 233.70,104.78 233.16,101.77" fill="#111"/>
<polygon points="287.30,78.03 287.46,76.97 287.69,75.95 287.99,74.96 288.36,74.01 288.80,73.09 289.31,72.21 289.89,71.37 290.53,70.55 291.25,69.78 292.04,69.03 292.90,68.32 293.83,67.64 294.83,66.99 295.91,66.37 297.05,65.79 298.27,65.24 299.56,64.73 300.93,64.24 302.37,63.79 303.88,63.38 305.46,63.00 307.12,62.65 308.85,62.34 310.66,62.06 312.54,61.82 314.49,61.62 316.51,61.45 318.61,61.31 320.79,61.21 323.03,61.15 322.97,59.05 320.69,59.16 318.48,59.32 316.35,59.50 314.29,59.73 312.30,59.99 310.38,60.28 308.54,60.62 306.77,60.99 305.08,61.39 303.46,61.84 301.91,62.31 300.43,62.83 299.03,63.38 297.70,63.96 296.45,64.58 295.27,65.24 294.16,65.93 293.13,66.66 292.17,67.42 291.29,68.22 290.49,69.05 289.76,69.92 289.11,70.82 288.53,71.75 288.04,72.71 287.62,73.71 287.27,74.73 287.01,75.78 286.82,76.86 286.70,77.97" fill="#111"/>
<polygon points="328.70,59.90 321.99,63.11 322.50,60.09 321.81,57.11" fill="#111"/>
<text x="291.8" y="44.6" font-size="7.6" text-anchor="start" fill="#2a2a2a" stroke="#2a2a2a" stroke-width="0.1" textLength="20.2" lengthAdjust="spacingAndGlyphs">MMC</text>
<text x="284.7" y="54.8" font-size="8.0" text-anchor="start" fill="#2a2a2a" stroke="#2a2a2a" stroke-width="0.1" textLength="35" lengthAdjust="spacingAndGlyphs">treatment</text>
<polygon points="359.91,87.35 360.10,88.34 360.38,89.31 360.73,90.25 361.16,91.17 361.66,92.06 362.24,92.93 362.89,93.77 363.61,94.59 364.41,95.37 365.27,96.13 366.21,96.86 367.21,97.56 368.28,98.22 369.42,98.86 370.62,99.46 371.89,100.04 373.22,100.58 374.61,101.09 376.07,101.56 377.58,102.01 379.16,102.42 380.80,102.79 382.50,103.14 384.25,103.44 386.07,103.72 387.94,103.96 389.86,104.16 391.85,104.33 393.88,104.46 395.98,104.55 396.02,102.45 393.97,102.41 391.97,102.33 390.02,102.22 388.13,102.07 386.30,101.88 384.52,101.66 382.80,101.41 381.13,101.13 379.53,100.81 377.99,100.46 376.50,100.08 375.08,99.66 373.72,99.22 372.42,98.74 371.18,98.24 370.01,97.70 368.90,97.13 367.85,96.54 366.87,95.92 365.96,95.27 365.11,94.59 364.32,93.88 363.61,93.15 362.96,92.39 362.38,91.60 361.86,90.79 361.41,89.94 361.04,89.07 360.73,88.17 360.49,87.25" fill="#111"/>
<polygon points="401.40,103.70 394.53,106.54 395.20,103.55 394.67,100.54" fill="#111"/>
<line x1="79.6" y1="63.1" x2="125.8" y2="63.1" stroke="#777" stroke-width="0.6"/>
<circle cx="82.5" cy="63.1" r="1.3" fill="#555"/>
<rect x="86.6" y="60.800000000000004" width="10.800000000000011" height="4.600000000000001" rx="1.2" fill="#f6a29e" stroke="#d46a66" stroke-width="0.5"/>
<rect x="97.6" y="60.800000000000004" width="5.0" height="4.600000000000001" rx="0.6" fill="#8a8a8a" stroke="#333" stroke-width="0.45"/>
<rect x="104.3" y="61.1" width="1.7999999999999972" height="3.999999999999993" rx="0.9" fill="#8a8a8a" stroke="#333" stroke-width="0.4"/>
<rect x="107.0" y="60.800000000000004" width="5.400000000000006" height="4.600000000000001" rx="0.6" fill="#8a8a8a" stroke="#333" stroke-width="0.45"/>
<circle cx="115.4" cy="63.1" r="1.2" fill="#555"/>
<rect x="119.3" y="60.800000000000004" width="4.1000000000000085" height="4.600000000000001" rx="0.6" fill="#8a8a8a" stroke="#333" stroke-width="0.45"/>
<line x1="79.6" y1="69.4" x2="125.8" y2="69.4" stroke="#777" stroke-width="0.6"/>
<circle cx="82.5" cy="69.4" r="1.3" fill="#555"/>
<rect x="86.6" y="67.10000000000001" width="10.800000000000011" height="4.599999999999994" rx="1.2" fill="#fcd6ae" stroke="#dca070" stroke-width="0.5"/>
<rect x="97.6" y="67.10000000000001" width="5.0" height="4.599999999999994" rx="0.6" fill="#8a8a8a" stroke="#333" stroke-width="0.45"/>
<rect x="104.3" y="67.4" width="1.7999999999999972" height="4.0" rx="0.9" fill="#8a8a8a" stroke="#333" stroke-width="0.4"/>
<rect x="107.0" y="67.10000000000001" width="5.400000000000006" height="4.599999999999994" rx="0.6" fill="#8a8a8a" stroke="#333" stroke-width="0.45"/>
<circle cx="115.4" cy="69.4" r="1.2" fill="#555"/>
<rect x="119.3" y="67.10000000000001" width="4.1000000000000085" height="4.599999999999994" rx="0.6" fill="#8a8a8a" stroke="#333" stroke-width="0.45"/>
<line x1="79.6" y1="75.8" x2="125.8" y2="75.8" stroke="#777" stroke-width="0.6"/>
<circle cx="82.5" cy="75.8" r="1.3" fill="#555"/>
<rect x="86.6" y="73.5" width="10.800000000000011" height="4.599999999999994" rx="1.2" fill="#c9e7c0" stroke="#86b883" stroke-width="0.5"/>
<rect x="97.6" y="73.5" width="5.0" height="4.599999999999994" rx="0.6" fill="#8a8a8a" stroke="#333" stroke-width="0.45"/>
<rect x="104.3" y="73.8" width="1.7999999999999972" height="4.0" rx="0.9" fill="#8a8a8a" stroke="#333" stroke-width="0.4"/>
<rect x="107.0" y="73.5" width="5.400000000000006" height="4.599999999999994" rx="0.6" fill="#8a8a8a" stroke="#333" stroke-width="0.45"/>
<circle cx="115.4" cy="75.8" r="1.2" fill="#555"/>
<rect x="119.3" y="73.5" width="4.1000000000000085" height="4.599999999999994" rx="0.6" fill="#8a8a8a" stroke="#333" stroke-width="0.45"/>
<line x1="104" y1="106.8" x2="206" y2="106.8" stroke="#777" stroke-width="0.6"/>
<path d="M102.3,106.8 q1,-1.2 2,0 t2,0" fill="none" stroke="#777" stroke-width="0.6"/>
<path d="M207.7,106.8 q-1,-1.2 -2,0 t-2,0" fill="none" stroke="#777" stroke-width="0.6"/>
<polygon points="110.6,102.6 111.7,105.3 114.6,105.5 112.4,107.4 113.1,110.2 110.6,108.7 108.1,110.2 108.8,107.4 106.6,105.5 109.5,105.3" fill="#666" stroke="#333" stroke-width="0.6" stroke-linejoin="round"/>
<rect x="120.2" y="102" width="33.999999999999986" height="9.599999999999994" rx="0.8" fill="#7b7b7b" stroke="#1e1e1e" stroke-width="1.0"/>
<line x1="144.4" y1="102" x2="144.4" y2="111.6" stroke="#1e1e1e" stroke-width="1"/>
<rect x="157.9" y="102.3" width="3.5" height="9.2" rx="1.75" fill="#7a7a7a" stroke="#2a2a2a" stroke-width="0.8"/>
<rect x="165.2" y="102" width="10.800000000000011" height="9.599999999999994" rx="0.6" fill="#d9434a" stroke="#7a2020" stroke-width="0.9"/>
<polygon points="183.4,102.6 184.5,105.3 187.4,105.5 185.2,107.4 185.9,110.2 183.4,108.7 180.9,110.2 181.6,107.4 179.4,105.5 182.3,105.3" fill="#666" stroke="#333" stroke-width="0.6" stroke-linejoin="round"/>
<rect x="191.2" y="102.2" width="11.200000000000017" height="9.299999999999997" rx="0.6" fill="#e8f3ff" stroke="#3a5590" stroke-width="1.0"/>
<text x="160.5" y="122.8" font-size="8.4" text-anchor="middle" fill="#2a2a2a" stroke="#2a2a2a" stroke-width="0.12" textLength="91.5" lengthAdjust="spacingAndGlyphs">sort mCherry+/BFP– cells</text>
<line x1="410" y1="106.9" x2="511" y2="106.9" stroke="#777" stroke-width="0.6"/>
<path d="M408.5,106.9 q1,-1.2 2,0 t2,0" fill="none" stroke="#777" stroke-width="0.6"/>
<path d="M512.5,106.9 q-1,-1.2 -2,0 t-2,0" fill="none" stroke="#777" stroke-width="0.6"/>
<polygon points="418.6,102.7 419.7,105.4 422.6,105.6 420.4,107.5 421.1,110.3 418.6,108.8 416.1,110.3 416.8,107.5 414.6,105.6 417.5,105.4" fill="#666" stroke="#333" stroke-width="0.6" stroke-linejoin="round"/>
<rect x="427.9" y="102.2" width="32.900000000000034" height="9.299999999999997" rx="0.8" fill="#7b7b7b" stroke="#1e1e1e" stroke-width="1.0"/>
<line x1="451.6" y1="102.2" x2="451.6" y2="111.5" stroke="#1e1e1e" stroke-width="1"/>
<rect x="464.2" y="103.2" width="4.3" height="8.6" rx="2.1" fill="#b0506a" stroke="#6a2035" stroke-width="0.8"/>
<rect x="471.4" y="102.2" width="10.200000000000045" height="9.5" rx="0.6" fill="#868c86" stroke="#1e1e1e" stroke-width="1.0"/>
<polygon points="489.1,102.7 490.2,105.4 493.1,105.6 490.9,107.5 491.6,110.3 489.1,108.8 486.6,110.3 487.3,107.5 485.1,105.6 488.0,105.4" fill="#666" stroke="#333" stroke-width="0.6" stroke-linejoin="round"/>
<rect x="496.7" y="102.2" width="10.800000000000011" height="9.5" rx="0.6" fill="#7e7e7e" stroke="#1e1e1e" stroke-width="1.0"/>
<text x="465.9" y="122.2" font-size="8.4" text-anchor="middle" fill="#2a2a2a" stroke="#2a2a2a" stroke-width="0.12" textLength="75" lengthAdjust="spacingAndGlyphs">Barcode Sequencing</text>
<g><line x1="255.6" y1="32.0" x2="260.0" y2="34.9" stroke="#555" stroke-width="0.85"/><line x1="260.0" y1="34.9" x2="260.0" y2="40.3" stroke="#555" stroke-width="0.85"/><line x1="260.0" y1="40.3" x2="255.6" y2="43.2" stroke="#555" stroke-width="0.85"/><line x1="255.6" y1="43.2" x2="251.4" y2="40.3" stroke="#555" stroke-width="0.85"/><line x1="251.85" y1="40.3" x2="251.85" y2="35.1" stroke="#555" stroke-width="0.7"/><line x1="250.95" y1="40.3" x2="250.95" y2="35.1" stroke="#555" stroke-width="0.7"/><line x1="251.4" y1="35.1" x2="255.6" y2="32.0" stroke="#555" stroke-width="0.85"/><line x1="256.05" y1="32.02" x2="256.25" y2="27.82" stroke="#555" stroke-width="0.7"/><line x1="255.15" y1="31.98" x2="255.35" y2="27.78" stroke="#555" stroke-width="0.7"/><line x1="255.15" y1="43.23" x2="255.45" y2="47.33" stroke="#555" stroke-width="0.7"/><line x1="256.05" y1="43.17" x2="256.35" y2="47.27" stroke="#555" stroke-width="0.7"/><line x1="251.4" y1="35.1" x2="247.2" y2="32.6" stroke="#555" stroke-width="0.85"/><line x1="251.4" y1="40.3" x2="248.6" y2="42.0" stroke="#555" stroke-width="0.85"/><line x1="260.0" y1="34.9" x2="264.8" y2="33.6" stroke="#555" stroke-width="0.85"/><line x1="267.2" y1="34.6" x2="269.3" y2="37.1" stroke="#555" stroke-width="0.85"/><line x1="269.3" y1="37.1" x2="266.3" y2="42.1" stroke="#555" stroke-width="0.85"/><line x1="266.42" y1="41.67" x2="260.12" y2="39.87" stroke="#555" stroke-width="0.7"/><line x1="266.18" y1="42.53" x2="259.88" y2="40.73" stroke="#555" stroke-width="0.7"/><line x1="266.5" y1="32.2" x2="269.6" y2="29.3" stroke="#555" stroke-width="0.85"/><line x1="269.6" y1="29.3" x2="274.3" y2="30.6" stroke="#555" stroke-width="0.85"/><line x1="274.3" y1="30.6" x2="274.3" y2="36.3" stroke="#555" stroke-width="0.85"/><line x1="274.3" y1="36.3" x2="269.3" y2="37.1" stroke="#555" stroke-width="0.85"/><line x1="274.3" y1="30.6" x2="278.8" y2="32.6" stroke="#555" stroke-width="0.85"/><line x1="274.3" y1="36.3" x2="278.8" y2="34.4" stroke="#555" stroke-width="0.85"/><polygon points="274.3,30.6 276.39,27.46 275.21,26.94" fill="#222"/><polygon points="274.3,36.3 275.32,39.88 276.48,39.32" fill="#222"/><polygon points="269.3,37.1 271.30,41.67 272.50,40.93" fill="#222"/><line x1="272.2" y1="43.6" x2="270.6" y2="46.6" stroke="#555" stroke-width="0.85"/><line x1="266.3" y1="42.1" x2="268.0" y2="46.8" stroke="#555" stroke-width="0.85"/><line x1="268.0" y1="46.8" x2="265.0" y2="50.6" stroke="#555" stroke-width="0.85"/><line x1="264.3" y1="52.8" x2="265.9" y2="56.3" stroke="#555" stroke-width="0.85"/><line x1="265.76" y1="56.73" x2="270.06" y2="58.13" stroke="#555" stroke-width="0.7"/><line x1="266.04" y1="55.87" x2="270.34" y2="57.27" stroke="#555" stroke-width="0.7"/><line x1="265.9" y1="56.3" x2="262.6" y2="59.8" stroke="#555" stroke-width="0.85"/></g>
<text x="256.0" y="28.2" font-size="4.4" text-anchor="middle" fill="#222" font-weight="bold">O</text>
<text x="256.1" y="50.3" font-size="4.4" text-anchor="middle" fill="#222" font-weight="bold">O</text>
<text x="244.6" y="45.0" font-size="4.4" text-anchor="middle" fill="#222" font-weight="bold">H₂N</text>
<text x="266.0" y="35.0" font-size="4.4" text-anchor="middle" fill="#222" font-weight="bold">N</text>
<text x="281.6" y="35.0" font-size="4.4" text-anchor="middle" fill="#222" font-weight="bold">NH</text>
<text x="276.3" y="27.3" font-size="4.4" text-anchor="middle" fill="#222" font-weight="bold">H</text>
<text x="276.6" y="42.4" font-size="4.4" text-anchor="middle" fill="#222" font-weight="bold">H</text>
<text x="272.6" y="44.0" font-size="4.4" text-anchor="middle" fill="#222" font-weight="bold">O</text>
<text x="263.9" y="53.2" font-size="4.4" text-anchor="middle" fill="#222" font-weight="bold">O</text>
<text x="271.8" y="59.5" font-size="4.4" text-anchor="middle" fill="#222" font-weight="bold">O</text>
<text x="259.8" y="62.6" font-size="4.4" text-anchor="middle" fill="#222" font-weight="bold">H₂N</text>
<defs><linearGradient id="gs" x1="0" x2="0" y1="0" y2="1"><stop offset="0" stop-color="#eeeeee"/><stop offset="0.15" stop-color="#e2e2e2"/><stop offset="0.8" stop-color="#d2d2d2"/><stop offset="1" stop-color="#c8c8c8"/></linearGradient><linearGradient id="gsc" x1="0" x2="1" y1="0" y2="1"><stop offset="0" stop-color="#e8f4f8"/><stop offset="1" stop-color="#c9e1ea"/></linearGradient></defs>
<path d="M428.4,44.2 L464,44.2 L464,88.6 L426.4,88.6 Q424.4,88.6 424.4,86.6 L424.4,48.2 Q424.4,44.2 428.4,44.2 Z" fill="url(#gs)" stroke="#9a9a9a" stroke-width="0.6"/>
<rect x="424.8" y="83.4" width="39" height="4.8" fill="#e6e6e6"/>
<path d="M425.6,87.5 L425.6,48.4 Q425.6,45.4 428.6,45.4 L462,45.4" fill="none" stroke="#f4f4f4" stroke-width="1.4"/>
<rect x="433.4" y="69.0" width="30" height="14.5" fill="#474747"/>
<rect x="435.6" y="70.7" width="20" height="7.8" fill="#3a3a3a" stroke="#555" stroke-width="0.5"/>
<line x1="436" y1="75.8" x2="455.4" y2="75.8" stroke="#4c4c4c" stroke-width="0.5"/>
<path d="M451,41.6 L460.6,34.0 Q461.9,33.0 463.5,33.0 L494.5,33.0 Q497,33.0 497.8,35.2 L500,42 L500.2,85.5 Q500.2,88.0 497.6,88.0 L465,88.0 Q462.3,88.0 462.3,85.5 L462.3,48.6 Z" fill="#454545" stroke="#2e2e2e" stroke-width="0.6"/>
<path d="M451,41.6 L460.6,34.0 L467,55.5 L462.3,48.6 Z" fill="#363636"/>
<line x1="462.5" y1="56.6" x2="500" y2="56.6" stroke="#555" stroke-width="0.5"/>
<path d="M468.1,35.6 L491.3,35.6 L493.8,54.3 L470.2,54.3 Z" fill="url(#gsc)" stroke="#56666c" stroke-width="0.5"/>
</svg>
</body></html>
